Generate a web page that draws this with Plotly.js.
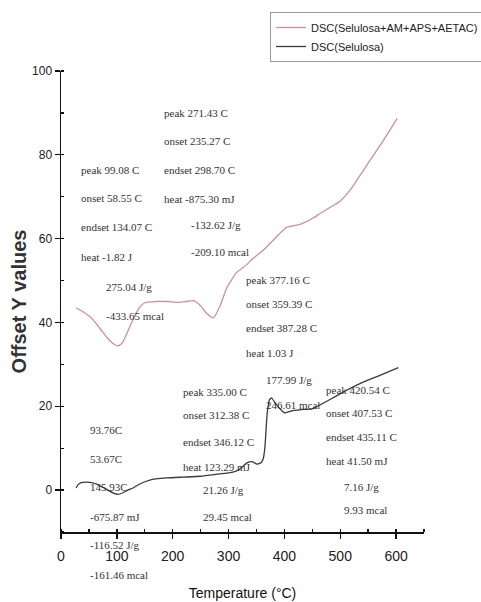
<!DOCTYPE html>
<html><head><meta charset="utf-8">
<script src="https://cdn.plot.ly/plotly-3.0.1.min.js"></script>
<style>html,body{margin:0;padding:0;background:#fff}#chart{width:481px;height:602px}</style>
</head><body><div id="chart"></div>
<script>
// Red curve: DSC(Selulosa+AM+APS+AETAC)
const tempRed = [27,40,55,70,85,95,102,110,120,130,140,150,170,190,210,225,237,250,262,273,285,297,315,330,344,360,374,390,404,428,450,464,480,500,520,540,560,580,602];
const dscRed  = [43.5,42.5,41,38.5,36,34.8,34.4,35.2,38,41,43.5,44.7,45,45,44.8,45,45.2,44,42,41.1,44,48.3,52,53.5,55.3,57,58.8,61,62.7,63.4,64.8,66,67.3,69,72,76,80,84,88.7];
// Black curve: DSC(Selulosa)
const tempBlack = [27,30,35,45,55,64,80,95,102,110,120,129,140,159,189,220,250,280,308,320,333,342,351,358,362,365,367,369,371,373,377,385,395,401,410,430,450,480,510,540,570,604];
const dscBlack  = [0.5,1.2,1.7,1.9,1.8,1.4,0.3,-0.8,-1,-0.7,0,0.5,1.4,2.4,2.9,3.1,3.3,3.8,4.3,5.0,6.5,6.8,6.2,6.5,7.4,10,14,18,20,21.5,22,20.5,19,18.4,18.8,19.2,19.4,21.5,23.7,25.7,27.3,29.2];
const seriesNames = ["DSC(Selulosa+AM+APS+AETAC)", "DSC(Selulosa)"];
const xTicks = [0,100,200,300,400,500,600];
const yTicks = [0,20,40,60,80,100];

// Peak annotation texts
const labels = [
  ["peak 99.08 C","onset 58.55 C","endset 134.07 C","heat -1.82 J","275.04 J/g","-433.65 mcal"],
  ["peak 271.43 C","onset 235.27 C","endset 298.70 C","heat -875.30 mJ","-132.62 J/g","-209.10 mcal"],
  ["peak 377.16 C","onset 359.39 C","endset 387.28 C","heat 1.03 J","177.99 J/g","246.61 mcal"],
  ["peak 335.00 C","onset 312.38 C","endset 346.12 C","heat 123.29 mJ","21.26 J/g","29.45 mcal"],
  ["peak 420.54 C","onset 407.53 C","endset 435.11 C","heat 41.50 mJ","7.16 J/g","9.93 mcal"],
  ["93.76C","53.67C","145.93C","-675.87 mJ","-116.52 J/g","-161.46 mcal"]
];

// layout placement of the label groups (pixels in the page)
const groupPos = [
  {x:[79,79,79,79,104,104], y:[170,198,227,257,287,316]},
  {x:[162,162,162,162,189,189], y:[113,141,170,199,225,252]},
  {x:[244,244,244,244,264,264], y:[280,304,328,353,380,405]},
  {x:[181,181,181,181,201,201], y:[392,415,442,467,490,517]},
  {x:[324,324,324,324,342,342], y:[390,413,437,461,487,510]},
  {x:[88,88,88,88,88,88], y:[430,459,487,517,545,575]}
];
const L=61, R=424, T=71, B=532;
const SERIF = 'Liberation Serif, Times New Roman, DejaVu Serif, serif';
const SANS = 'Arial, Liberation Sans, sans-serif';
const annotations = [];
labels.forEach((g,gi)=>g.forEach((t,i)=>{
  annotations.push({text:t, xref:'paper', yref:'paper',
    x:(groupPos[gi].x[i]-L)/(R-L), y:(B-groupPos[gi].y[i])/(B-T),
    xanchor:'left', yanchor:'middle', showarrow:false,
    font:{family:SERIF, size:11, color:'#333'}});
}));

const traces = [
  {x:tempRed, y:dscRed, name:seriesNames[0], mode:'lines', line:{color:'#cf8f98', width:1.3, shape:'spline', smoothing:0.6}},
  {x:tempBlack, y:dscBlack, name:seriesNames[1], mode:'lines', line:{color:'#3a3a3a', width:1.3, shape:'spline', smoothing:0.4}}
];

const layout = {
  width:481, height:602,
  margin:{l:L, r:481-R, t:T, b:602-B, autoexpand:false},
  paper_bgcolor:'#fff', plot_bgcolor:'#fff',
  showlegend:true,
  legend:{x:(484-L)/(R-L), y:(B-12)/(B-T), xanchor:'right', yanchor:'top',
    bordercolor:'#999', borderwidth:1, bgcolor:'rgba(255,255,255,0)',
    font:{family:SANS, size:11, color:'#222'},
    itemwidth:30, tracegroupgap:0},
  xaxis:{range:[0,650], showgrid:false, zeroline:false, showline:true, linecolor:'#111', linewidth:1.5,
    ticks:'outside', ticklen:5, tickwidth:1.3, tickcolor:'#111',
    tickvals:xTicks, ticklabelstandoff:6,
    minor:{ticks:'inside', ticklen:3, tickcolor:'#111', dtick:50, tick0:0},
    tickfont:{family:SANS, size:14, color:'#222'},
    title:{text:'Temperature (°C)', standoff:25, font:{family:SANS, size:14, color:'#111'}}},
  yaxis:{range:[-10,100], showgrid:false, zeroline:false, showline:true, linecolor:'#111', linewidth:1.5,
    ticks:'outside', ticklen:5, tickwidth:1.3, tickcolor:'#111',
    tickvals:yTicks,
    minor:{ticks:'inside', ticklen:3, tickcolor:'#111', dtick:10, tick0:0},
    tickfont:{family:SANS, size:12, color:'#222'},
    title:{text:'<b>Offset Y values</b>', standoff:0, font:{family:SANS, size:20, color:'#333'}}},
  annotations:annotations
};
Plotly.newPlot('chart', traces, layout, {staticPlot:true, displayModeBar:false});
</script></body></html>
